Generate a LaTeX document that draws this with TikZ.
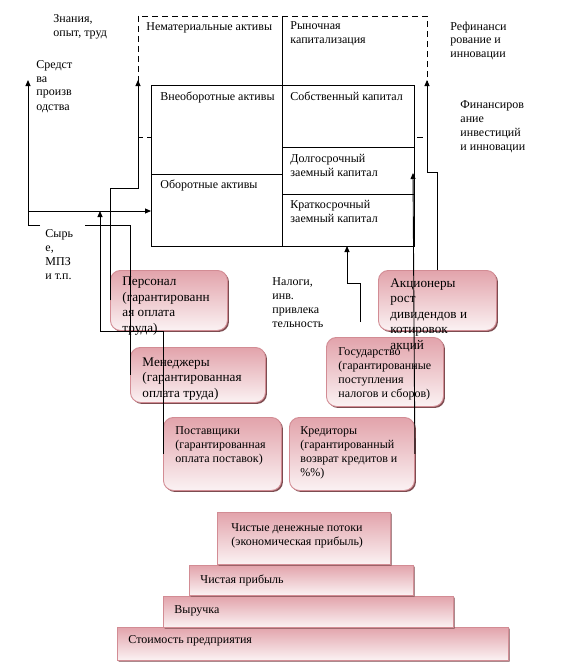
\documentclass[tikz,border=0pt]{standalone}
\usepackage{fontspec}
\setmainfont{Liberation Serif}
\usetikzlibrary{arrows.meta,shapes.misc,shadows}

\definecolor{plaqtop}{RGB}{226,163,171}
\definecolor{plaqbot}{RGB}{251,242,243}
\definecolor{plaqline}{RGB}{210,140,148}
\definecolor{plaqshd}{RGB}{125,76,80}

\tikzset{
    txt/.style={anchor=base west,inner sep=0pt,align=left,font=\fontsize{12}{14}\selectfont},
    bigtxt/.style={txt,font=\fontsize{13.2}{15.5}\selectfont},
    plaq/.style={anchor=north west,draw=plaqline,rounded corners=10pt,top color=plaqtop,bottom color=plaqbot,
        drop shadow={shadow xshift=1.5pt,shadow yshift=-1.5pt,fill=plaqshd,opacity=1},inner sep=0pt},
    tier/.style={plaq,sharp corners,chamfered rectangle,chamfered rectangle xsep=4pt,chamfered rectangle ysep=4pt}
}

\begin{document}
\begin{tikzpicture}[x=1pt,y=-1pt,>={Triangle[length=6pt,width=5pt]},line width=0.9pt]
        \useasboundingbox (0,0) rectangle (571,669);
        \draw[dash pattern=on 6pt off 4pt] (138,16) rectangle (427,137);
        \draw[fill=white] (151,85) rectangle (414,246);
        \draw (282,16)--(282,246);
        \draw (151,174)--(282,174) (282,147)--(414,147) (282,194)--(414,194);
        % ячейки баланса (base = последняя строка)
        \node (nemat) at (146,31)[txt]{Нематериальные активы};
        \node (rynok) at (290,44)[txt]{Рыночная\\капитализация};
        \node (vneob) at (160,100)[txt]{Внеоборотные активы};
        \node (sobst) at (290,100)[txt]{Собственный капитал};
        \node (obor) at (160,188)[txt]{Оборотные активы};
        \node (dolg) at (290,176)[txt]{Долгосрочный\\заемный капитал};
        \node (krat) at (290,222)[txt]{Краткосрочный\\заемный капитал};
        \node (znan) at (53,37)[txt]{Знания,\\опыт, труд};
        \node (sredst) at (36,110)[txt]{Средст\\ва\\произв\\одства};
        \node (syr) at (45,279)[txt]{Сырь\\е,\\МПЗ\\и т.п.};
        \node (refin) at (450,58)[txt]{Рефинанси\\рование и\\инновации};
        \node (finans) at (460,150)[txt]{Финансиров\\ание\\инвестиций\\и инновации};
        \node (nalog) at (272,327)[txt]{Налоги,\\инв.\\привлека\\тельность};
        % участники
        \node (pers) at (110,270)[plaq,minimum width=117pt,minimum height=60pt]{};
        \node (men) at (130,347)[plaq,minimum width=135pt,minimum height=55pt]{};
        \node (post) at (163,417)[plaq,minimum width=118pt,minimum height=73pt]{};
        \node (kred) at (289,417)[plaq,minimum width=125pt,minimum height=73pt]{};
        \node (gos) at (326,337)[plaq,minimum width=117pt,minimum height=69pt]{};
        \node (akc) at (378,270)[plaq,minimum width=118pt,minimum height=60pt]{};
        \node (perst) at (122,332)[bigtxt]{Персонал\\(гарантированн\\ая оплата\\труда)};
        \node (ment) at (142,397)[bigtxt]{Менеджеры\\(гарантированная\\оплата труда)};
        \node (postt) at (175,462)[txt]{Поставщики\\(гарантированная\\оплата поставок)};
        \node (kredt) at (300,476)[txt]{Кредиторы\\(гарантированный\\возврат кредитов и\\\%\%)};
        \node (gost) at (338,397)[txt]{Государство\\(гарантированные\\поступления\\налогов и сборов)};
        \node (akct) at (390,349)[bigtxt]{Акционеры\\рост\\дивидендов и\\котировок\\акций};
        % пирамида
        \node (stp) at (117,627)[tier,minimum width=391pt,minimum height=33pt]{};
        \node (vyr) at (163,596)[tier,minimum width=290pt,minimum height=31pt]{};
        \node (chp) at (189,565)[tier,minimum width=224pt,minimum height=30pt]{};
        \node (cdp) at (217,512)[tier,minimum width=173pt,minimum height=52pt]{};
        \node (cdpt) at (231,545)[txt]{Чистые денежные потоки\\(экономическая прибыль)};
        \node (chpt) at (200,583)[txt]{Чистая прибыль};
        \node (vyrt) at (174,613)[txt]{Выручка};
        \node (stpt) at (128,643)[txt]{Стоимость предприятия};
        % связи
        \coordinate (nm) at (138,80);
        \coordinate (sp) at (28,80);
        \coordinate (rf) at (427,80);
        \coordinate (ob) at (151,211);
        \coordinate (sy1) at (85,225);
        \coordinate (sy2) at (40,225);
        \coordinate (pt) at (100,331);
        \coordinate (gb) at (347,246);
        \coordinate (gs) at (360,322);
        \coordinate (dk) at (413,173);
        \draw[->] (pers.west)--++(0,-112)-|(nm);
        \draw[->] (men.west)|-(sy1) (sy2)-|(sp);
        \draw[->] (ob-|sp)--(ob);
        \draw[->] (post.west)|-(pt)--(pt|-ob);
        \draw[->] (gs)--++(0,-39)-|(gb);   % ++ от предыдущей точки
        \draw[->] (akc.north)--++(0,-98)-|(rf);
        \draw[->] (kred.east)--(dk);
\end{tikzpicture}
\end{document}
